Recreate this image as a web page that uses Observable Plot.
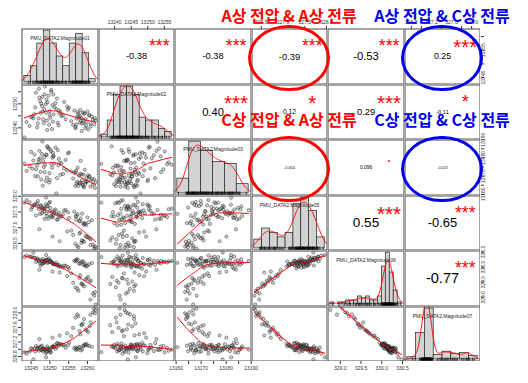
<!DOCTYPE html>
<html><head><meta charset="utf-8">
<script src="https://cdn.jsdelivr.net/npm/d3@7"></script>
<script src="https://cdn.jsdelivr.net/npm/@observablehq/plot@0.6"></script>
<style>
body{margin:0;background:#fff;}
#chart{position:relative;width:528px;height:383px;overflow:hidden;background:#fff;font-family:"Liberation Sans",Arial,sans-serif;}
.cell{position:absolute;line-height:0;}
.cell svg{display:block;}
.note{position:absolute;font-family:"Noto Sans CJK KR","Noto Sans",sans-serif;font-weight:700;font-size:16px;white-space:nowrap;transform:translate(-50%,-50%);line-height:1;}
.ring{position:absolute;border-radius:50%;box-sizing:border-box;border:3px solid;}
</style></head><body><div id="chart"></div>
<script>
// ---------------- data ----------------
const varLabels = ["PMU_DATA2.Magnitude01","PMU_DATA2.Magnitude02","PMU_DATA2.Magnitude03","PMU_DATA2.Magnitude05","PMU_DATA2.Magnitude06","PMU_DATA2.Magnitude07"];
const mag01 = [13248.2,13249.1,13247.5,13250.3,13246.8,13251.2,13249.6,13245.3,13252.4,13248.9,
13250.8,13247.1,13253.5,13249.4,13244.6,13251.9,13248.5,13250.1,13246.3,13254.2,
13249.8,13247.9,13252.8,13248.7,13245.9,13250.6,13255.1,13249.2,13247.4,13251.5,
13243.8,13253.1,13248.1,13250.9,13246.6,13249.9,13252.1,13247.7,13254.8,13250.4,
13257.8,13258.6,13259.3,13257.1,13260.4,13258.2,13256.5,13259.7,13261.2,13257.4,
13258.9,13256.9,13258.4,13259.8,13257.6,13260.9,13258.1,13261.5,13256.2,13259.1,
13260.2,13257.3,13255.7,13258.8,13261.8,13259.5,13254.6,13256.8,13260.6,13257.9,
13262.0,13258.5,13250.7,13247.2,13252.6,13248.4,13251.0,13246.1,13249.3,13253.8,
13247.0,13250.0,13245.0,13252.3,13248.6,13258.0,13259.0,13260.0,13257.0,13259.4,
13243.2,13251.7,13248.0,13262.2,13260.8,13245.6,13249.0];
const mag02 = [13243.5,13251.8,13246.2,13255.1,13241.9,13248.7,13253.4,13244.8,13247.3,13249.9,
13242.6,13256.3,13245.1,13250.6,13240.8,13252.2,13247.9,13244.2,13254.7,13243.6,
13241.3,13249.1,13246.6,13257.2,13245.7,13239.5,13248.3,13243.1,13251.2,13250.3,
13242.4,13244.9,13246.8,13253.9,13240.2,13245.4,13242.1,13250.1,13247.6,13255.8,
13244.3,13241.7,13246.1,13243.8,13245.2,13242.9,13247.2,13240.9,13244.7,13246.5,
13243.2,13239.8,13244.1,13242.5,13245.8,13240.6,13247.4,13243.4,13241.2,13245.9,
13239.3,13244.6,13242.8,13246.3,13241.5,13243.7,13248.9,13240.4,13245.3,13242.2,
13244.0,13238.7,13249.5,13252.6,13246.0,13242.0,13245.6,13248.5,13239.1,13250.8,
13243.9,13247.0,13244.4,13241.0,13254.0,13245.0,13242.0,13246.8,13241.4,13239.9,
13236.0,13247.8,13252.9,13243.0,13241.8,13244.0,13246.4];
const mag03 = [13178.2,13181.5,13172.4,13183.6,13169.8,13176.9,13185.2,13174.1,13179.5,13167.3,
13182.8,13177.6,13171.2,13186.1,13175.3,13168.9,13180.4,13184.7,13173.8,13178.9,
13166.5,13182.2,13170.7,13176.3,13181.9,13174.6,13183.1,13169.2,13179.8,13185.7,
13172.9,13177.1,13164.8,13180.9,13175.8,13171.6,13184.3,13168.1,13182.5,13176.6,
13170.3,13167.8,13173.5,13165.9,13169.6,13178.4,13171.8,13166.7,13168.4,13174.7,
13164.3,13172.1,13166.2,13169.1,13164.7,13167.5,13171.3,13165.4,13168.7,13163.9,
13170.5,13166.9,13172.6,13165.1,13168.2,13167.0,13173.2,13164.5,13169.9,13166.4,
13163.6,13171.0,13180.1,13183.9,13177.4,13175.0,13181.2,13170.0,13186.4,13174.3,
13179.1,13167.9,13183.3,13176.0,13172.2,13166.0,13170.8,13167.2,13173.0,13165.6,
13176.8,13160.5,13189.0,13166.8,13164.2,13178.6,13182.0];
const mag05 = [327.62,327.45,327.71,327.38,327.85,327.55,327.29,327.66,327.48,327.74,
327.33,327.59,327.42,327.68,327.81,327.26,327.52,327.63,327.39,327.57,
327.79,327.46,327.35,327.61,327.73,327.50,327.31,327.69,327.44,327.58,
327.88,327.36,327.64,327.41,327.77,327.53,327.27,327.70,327.49,327.34,
327.22,327.45,327.12,327.38,327.18,327.30,327.51,327.08,327.24,327.43,
327.15,327.36,326.52,326.71,326.38,326.63,326.85,326.46,326.77,326.55,
326.69,326.42,326.91,326.58,326.34,326.74,326.88,326.49,326.66,326.81,
326.40,326.60,326.72,326.95,326.57,327.60,327.47,327.75,327.37,327.54,
327.67,327.82,327.58,327.40,327.28,327.20,327.10,327.33,327.26,327.14,
327.80,327.44,327.56,326.36,326.45,327.70,327.96];
const mag06 = [330.12,330.21,330.05,330.18,330.28,330.09,330.15,330.32,330.02,330.24,
330.11,330.19,329.98,330.26,330.35,330.07,330.14,330.22,330.17,330.04,
330.29,330.10,330.01,330.20,330.31,330.16,329.95,330.23,330.13,330.08,
330.38,330.03,330.27,330.12,330.25,330.18,330.06,330.22,330.00,330.15,
330.11,330.19,330.05,330.24,330.09,330.16,330.21,330.02,330.13,330.26,
330.07,330.19,329.45,329.62,329.21,329.55,329.73,329.12,329.48,329.36,
329.67,329.28,329.79,329.41,329.05,329.58,329.70,329.33,329.52,329.64,
329.17,329.44,329.85,329.91,329.82,330.17,330.10,330.30,330.14,330.05,
330.22,330.19,330.34,330.08,330.20,330.12,330.18,330.04,330.22,330.10,
330.33,330.14,330.20,328.76,328.92,330.48,330.40];
const mag07 = [327.02,326.95,327.08,326.92,327.05,327.11,326.98,327.01,327.14,326.89,
327.06,326.96,327.12,327.03,326.94,327.17,327.00,326.91,327.09,327.04,
326.97,327.10,327.15,326.99,327.02,327.07,327.18,326.93,327.05,327.01,
326.88,327.13,326.95,327.08,327.03,327.00,327.16,326.98,327.11,327.04,
327.06,326.99,327.12,327.02,327.09,326.97,327.03,327.15,327.07,327.00,
327.10,327.05,327.68,327.52,327.91,327.74,327.41,328.02,327.59,327.83,
327.47,327.96,327.36,327.71,328.12,327.55,327.44,327.87,327.63,327.50,
327.99,327.66,327.32,327.28,327.38,327.02,327.06,326.94,327.08,327.12,
327.01,326.96,327.03,327.09,327.00,327.05,327.08,327.11,326.98,327.13,
326.92,327.06,326.99,328.08,327.95,326.72,326.78];
// histogram bin widths
const histStep = [2, 2, 5, 0.2, 0.1, 0.2];
// upper-triangle correlations, row by row
const corText   = ["-0.38","-0.38","-0.39","-0.53","0.25","0.40","0.12","0.29","-0.11","-0.054","0.096","-0.023","0.55","-0.65","-0.77"];
const corValues = [-0.38,-0.38,-0.39,-0.53,0.25,0.40,0.12,0.29,-0.11,-0.054,0.096,-0.023,0.55,-0.65,-0.77];
const corStars  = ["***","***","***","***","***","***","*","***","*","","."," ","***","***","***"];
// annotations: [row, col] and text
const noteCells = [[0,3],[0,5],[2,3],[2,5]];
const noteTexts = ["A상 전압 & A상 전류","A상 전압 & C상 전류","C상 전압 & A상 전류","C상 전압 & C상 전류"];

// ---------------- helpers ----------------
const cols = [mag01, mag02, mag03, mag05, mag06, mag07];
const keys = ["m01","m02","m03","m05","m06","m07"];
const N = mag01.length;
const table = d3.range(N).map(i => Object.fromEntries(keys.map((k,j)=>[k, cols[j][i]])));
const chart = document.getElementById("chart");
const X0=21, Y0=28, CW=76.5, CH=55.5, NV=6, AXFS=5;
const gx = c => Math.round(X0 + c*CW), gy = r => Math.round(Y0 + r*CH);
function put(node, left, top){ const d=document.createElement("div"); d.className="cell"; d.style.left=left+"px"; d.style.top=top+"px"; d.appendChild(node); chart.appendChild(d); return d; }
const ctx = document.createElement("canvas").getContext("2d");
ctx.font = '100px "Liberation Sans"';
const em = s => ctx.measureText(s).width/100;
const domains = cols.map(v => { const [a,b]=d3.extent(v); const p=(b-a)*0.04; return [a-p,b+p]; });
const frame = () => Plot.frame({stroke:"#4a4a4a", strokeWidth:1, inset:0.5});

function lowess(xs, ys, f=2/3, iter=3){
  const n=xs.length, idx=d3.range(n).sort((a,b)=>xs[a]-xs[b]);
  const x0=xs[idx[0]];
  const x=idx.map(i=>xs[i]-x0), y=idx.map(i=>ys[i]);
  const r=Math.max(2,Math.ceil(f*n));
  let rw=new Array(n).fill(1); const fit=new Array(n);
  for(let it=0; it<=iter; it++){
    for(let i=0;i<n;i++){
      const d=x.map(v=>Math.abs(v-x[i]));
      const h=Math.max(d.slice().sort((a,b)=>a-b)[r-1],1e-9)*1.000001;
      let sw=0,sx=0,sy=0,sxx=0,sxy=0;
      for(let j=0;j<n;j++){ const u=d[j]/h; if(u>=1) continue; const w=Math.pow(1-u*u*u,3)*rw[j]; sw+=w; sx+=w*x[j]; sy+=w*y[j]; sxx+=w*x[j]*x[j]; sxy+=w*x[j]*y[j]; }
      if(sw<=0){ fit[i]=y[i]; continue; }
      const mx=sx/sw, my=sy/sw, vx=sxx/sw-mx*mx;
      const b = vx>1e-12 ? (sxy/sw-mx*my)/vx : 0;
      fit[i]=my+b*(x[i]-mx);
    }
    if(it===iter) break;
    const res=y.map((v,i)=>Math.abs(v-fit[i])); const m=d3.median(res)||1e-9;
    rw=res.map(e=>{const u=e/(6*m); return u<1?(1-u*u)**2:0;});
  }
  return x.map((v,i)=>({x:v+x0,y:fit[i]}));
}

// ---------------- panels ----------------
let k=0;
for(let r=0;r<NV;r++){
  for(let c=0;c<NV;c++){
    const w=gx(c+1)-gx(c), h=gy(r+1)-gy(r);
    const base={width:w,height:h,margin:0,style:{overflow:"hidden",background:"transparent"}};
    let p;
    if(r>c){
      const sm=lowess(cols[c], cols[r]);
      p=Plot.plot({...base, x:{domain:domains[c],axis:null}, y:{domain:domains[r],axis:null}, marks:[
        Plot.dot(table,{x:keys[c], y:keys[r], r:1.6, fill:"#777", fillOpacity:0.3, stroke:"#111", strokeOpacity:0.7, strokeWidth:0.6}),
        Plot.line(sm,{x:"x",y:"y",stroke:"red",strokeWidth:1}),
        frame()
      ]});
    } else if(r<c){
      const txt=corText[k], v=corValues[k], st=corStars[k]; k++;
      const fb=40.3/em(txt);
      const fs=fb*(Math.abs(v)+0.3)/1.3;
      p=Plot.plot({...base, x:{domain:[0,1],axis:null}, y:{domain:[0,1],axis:null}, marks:[
        Plot.text([txt],{x:0.5,y:0.5,text:d=>d,fontSize:fs,fill:"black",fontFamily:"Liberation Sans"}),
        Plot.text([st],{x:0.8,y:0.8,text:d=>d,fontSize:fb,fill:"red",dy:fb*0.38,fontFamily:"Liberation Sans"}),
        frame()
      ]});
    } else {
      const v=cols[r], n=v.length, [lo,hi]=d3.extent(v);
      const q1=d3.quantile(v,.25), q3=d3.quantile(v,.75);
      const step=histStep[r];
      const k0=Math.floor(lo/step+1e-9), k1=Math.ceil(hi/step-1e-9);
      const breaks=d3.range(k0,k1+1).map(q=>+(q*step).toFixed(9));
      const bins=breaks.slice(0,-1).map((b,j)=>{const b2=breaks[j+1]; const cnt=v.filter(x=>(j===0?x>=b:x>b)&&x<=b2).length; return {x1:b,x2:b2,y:cnt/(n*step)};});
      const sd=d3.deviation(v); const bw=0.9*Math.min(sd,(q3-q1)/1.34)*Math.pow(n,-0.2);
      const xr=[breaks[0],breaks[breaks.length-1]], xp=(xr[1]-xr[0])*0.04;
      const xdom=[xr[0]-xp,xr[1]+xp];
      const g0=Math.max(lo-3*bw,xdom[0]), g1=Math.min(hi+3*bw,xdom[1]);
      const dens=d3.range(160).map(j=>{const x=g0+(g1-g0)*j/159; return {x,y:d3.sum(v,xi=>Math.exp(-0.5*((x-xi)/bw)**2))/(n*bw*Math.sqrt(2*Math.PI))};});
      const ym=d3.max(bins,d=>d.y);
      const ydom=[-0.04*ym,1.04*ym];
      p=Plot.plot({...base, x:{domain:xdom,axis:null}, y:{domain:ydom,axis:null}, marks:[
        Plot.rectY(bins,{x1:"x1",x2:"x2",y:"y",fill:"#d3d3d3",stroke:"#222",strokeWidth:0.7}),
        Plot.line(dens,{x:"x",y:"y",stroke:"red",strokeWidth:0.9}),
        Plot.ruleX(v,{x:d=>d,y1:ydom[0],y2:ydom[0]+0.06*(ydom[1]-ydom[0]),stroke:"black",strokeWidth:0.7}),
        Plot.text([varLabels[r]],{frameAnchor:"top",dy:8,text:d=>d,fontSize:5,fill:"#222",fontFamily:"Liberation Sans"}),
        frame()
      ]});
    }
    put(p, gx(c), gy(r));
  }
}

// ---------------- axes ----------------
function tickInfo(i, len){
  const dom=domains[i];
  const t=d3.ticks(dom[0],dom[1],5).filter(x=>x>=dom[0]&&x<=dom[1]);
  const step=d3.tickStep(dom[0],dom[1],5);
  const dec=Math.max(0,-Math.floor(Math.log10(step)+1e-9));
  const fmt=d3.format(`.${dec}f`);
  const sc=d3.scaleLinear(dom,[0,len]);
  const keep=new Set(); let last=-Infinity;
  for(const x of t){ const wd=em(fmt(x))*AXFS, q=sc(x); if(q-wd/2>last+0.5){keep.add(x); last=q+wd/2;} }
  return {t, label:x=>keep.has(x)?fmt(x):""};
}
const axStyle={overflow:"visible",background:"transparent"};
for(let c=0;c<NV;c++){
  const w=gx(c+1)-gx(c); const {t,label}=tickInfo(c,w);
  const top = c%2===1;
  const p=Plot.plot({width:w,height:20,marginLeft:0,marginRight:0,marginTop:top?19:0,marginBottom:top?0:19,
    x:{domain:domains[c]},style:axStyle,
    marks:[Plot.axisX({ticks:t,tickFormat:label,anchor:top?"top":"bottom",tickSize:3,tickPadding:1.5,fontSize:AXFS,color:"#333",fontFamily:"Liberation Sans"})]});
  put(p, gx(c), top? gy(0)-19 : gy(NV)-1);
}
for(let r=0;r<NV;r++){
  const h=gy(r+1)-gy(r); const {t,label}=tickInfo(r,h);
  const left = r%2===1;
  const p=Plot.plot({width:20,height:h,marginTop:0,marginBottom:0,marginLeft:left?19:0,marginRight:left?0:19,
    y:{domain:domains[r]},style:axStyle,
    marks:[Plot.axisY({ticks:t,tickFormat:label,anchor:left?"left":"right",tickSize:3,tickPadding:1.5,fontSize:AXFS,tickRotate:-90,color:"#333",fontFamily:"Liberation Sans"})]});
  put(p, left? gx(0)-19 : gx(NV)-1, gy(r));
}

// ---------------- annotations ----------------
noteCells.forEach(([r,c],i)=>{
  const color = c===3 ? "#ff0000" : "#0000ee";
  const ccx=(gx(c)+gx(c+1))/2, ccy=(gy(r)+gy(r+1))/2+2;
  const rx=CW*0.53, ry=CH*0.6;
  const ring=document.createElement("div"); ring.className="ring";
  ring.style.left=(ccx-rx)+"px"; ring.style.top=(ccy-ry)+"px";
  ring.style.width=(2*rx)+"px"; ring.style.height=(2*ry)+"px"; ring.style.borderColor=color;
  chart.appendChild(ring);
  const lab=document.createElement("div"); lab.className="note"; lab.textContent=noteTexts[i];
  lab.style.color=color; lab.style.left=ccx+"px"; lab.style.top=Math.max(15,ccy-ry-17)+"px";
  chart.appendChild(lab);
});
</script></body></html>
